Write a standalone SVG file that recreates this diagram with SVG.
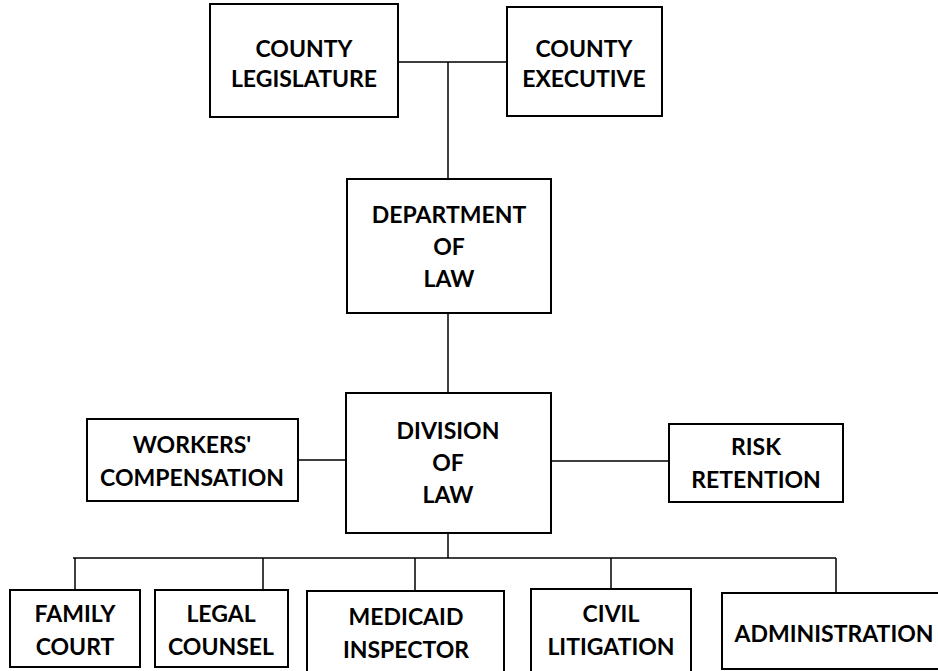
<svg xmlns="http://www.w3.org/2000/svg" width="938" height="671" viewBox="0 0 938 671">
<style>
.box{fill:#fff;stroke:#000;stroke-width:2}
.ln{fill:none;stroke:#000;stroke-width:1.5}
text{font-family:Lato,"Liberation Sans",sans-serif;font-weight:bold;font-size:23px;text-anchor:middle;fill:#000}
</style>
<rect width="938" height="671" fill="#fff"/>
<g id="connectors">
<path class="ln" d="M398 62H507M448 62V179M448 313V393M298 460H346M551 461H669M448 533V558M73 558H836M75 558V590M263 558V590M415 558V591M611 558V589M836 558V593"/>
</g>
<g id="county-legislature"><rect class="box" x="210" y="4" width="188" height="113"/><text x="304" y="57">COUNTY</text><text x="304" y="87">LEGISLATURE</text></g>
<g id="county-executive"><rect class="box" x="507" y="7" width="155" height="109"/><text x="584" y="57">COUNTY</text><text x="584" y="87">EXECUTIVE</text></g>
<g id="department-of-law"><rect class="box" x="347" y="179" width="204" height="134"/><text x="449" y="223">DEPARTMENT</text><text x="449" y="255">OF</text><text x="449" y="287">LAW</text></g>
<g id="division-of-law"><rect class="box" x="346" y="393" width="205" height="140"/><text x="448" y="439">DIVISION</text><text x="448" y="471">OF</text><text x="448" y="503">LAW</text></g>
<g id="workers-compensation"><rect class="box" x="87" y="419" width="211" height="82"/><text x="192" y="453">WORKERS'</text><text x="192" y="486">COMPENSATION</text></g>
<g id="risk-retention"><rect class="box" x="669" y="424" width="174" height="78"/><text x="756" y="455">RISK</text><text x="756" y="488">RETENTION</text></g>
<g id="family-court"><rect class="box" x="10" y="590" width="130" height="77"/><text x="75" y="622">FAMILY</text><text x="75" y="655">COURT</text></g>
<g id="legal-counsel"><rect class="box" x="155" y="590" width="133" height="77"/><text x="221" y="622">LEGAL</text><text x="221" y="655">COUNSEL</text></g>
<g id="medicaid-inspector"><rect class="box" x="307" y="591" width="197" height="90"/><text x="406" y="625">MEDICAID</text><text x="406" y="658">INSPECTOR</text></g>
<g id="civil-litigation"><rect class="box" x="531" y="589" width="160" height="90"/><text x="611" y="622">CIVIL</text><text x="611" y="655">LITIGATION</text></g>
<g id="administration"><rect class="box" x="722" y="593" width="230" height="76"/><text x="834" y="642">ADMINISTRATION</text></g>
</svg>
